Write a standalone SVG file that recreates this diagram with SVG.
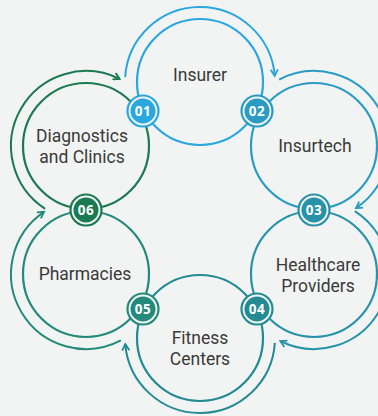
<svg xmlns="http://www.w3.org/2000/svg" width="378" height="416" viewBox="0 0 378 416">
<style>
.ring{fill:none;stroke-width:2.2}
.arc{fill:none;stroke-width:2}
.lbl{font-family:Roboto,"Noto Sans",sans-serif;font-size:17.5px;fill:#3a3a3a;text-anchor:middle}
.num{font-family:"Open Sans","Noto Sans",sans-serif;font-size:13.5px;font-weight:700;fill:#ffffff;text-anchor:middle;letter-spacing:0.5px}
.bo{fill:#f2f4f3;stroke-width:2.2}
</style>
<defs>
<marker id="m1" viewBox="0 0 10 10" refX="8" refY="5" markerWidth="9" markerHeight="9" markerUnits="userSpaceOnUse" orient="auto"><path d="M1,1 L8,5 L1,9" fill="none" stroke="#2aa7df" stroke-width="2"/></marker>
<marker id="m2" viewBox="0 0 10 10" refX="8" refY="5" markerWidth="9" markerHeight="9" markerUnits="userSpaceOnUse" orient="auto"><path d="M1,1 L8,5 L1,9" fill="none" stroke="#2a9cc4" stroke-width="2"/></marker>
<marker id="m3" viewBox="0 0 10 10" refX="8" refY="5" markerWidth="9" markerHeight="9" markerUnits="userSpaceOnUse" orient="auto"><path d="M1,1 L8,5 L1,9" fill="none" stroke="#2893a8" stroke-width="2"/></marker>
<marker id="m4" viewBox="0 0 10 10" refX="8" refY="5" markerWidth="9" markerHeight="9" markerUnits="userSpaceOnUse" orient="auto"><path d="M1,1 L8,5 L1,9" fill="none" stroke="#248b93" stroke-width="2"/></marker>
<marker id="m5" viewBox="0 0 10 10" refX="8" refY="5" markerWidth="9" markerHeight="9" markerUnits="userSpaceOnUse" orient="auto"><path d="M1,1 L8,5 L1,9" fill="none" stroke="#238a7c" stroke-width="2"/></marker>
<marker id="m6" viewBox="0 0 10 10" refX="8" refY="5" markerWidth="9" markerHeight="9" markerUnits="userSpaceOnUse" orient="auto"><path d="M1,1 L8,5 L1,9" fill="none" stroke="#1b7a52" stroke-width="2"/></marker>
</defs>
<rect width="378" height="416" fill="#f2f4f3"/>
<g id="connectors">
<path class="arc" stroke="#2aa7df" marker-end="url(#m1)" d="M125.16,77.16 A75,75 0 0 1 274.75,75.85"/>
<path class="arc" stroke="#2a9cc4" marker-end="url(#m2)" d="M279.14,79.6 A75,75 0 0 1 355.94,208.18"/>
<path class="arc" stroke="#2893a8" marker-end="url(#m3)" d="M354.85,211.1 A75,75 0 0 1 280.3,341"/>
<path class="arc" stroke="#248b93" marker-end="url(#m4)" d="M274.84,342.84 A75,75 0 0 1 125.25,344.15"/>
<path class="arc" stroke="#238a7c" marker-end="url(#m5)" d="M120.86,340.4 A75,75 0 0 1 44.06,211.82"/>
<path class="arc" stroke="#1b7a52" marker-end="url(#m6)" d="M45.15,208.9 A75,75 0 0 1 119.7,79"/>
</g>
<g id="insurer"><circle class="ring" cx="200" cy="82" r="63" stroke="#2aa7df"/><text class="lbl" x="200" y="81">Insurer</text></g>
<g id="insurtech"><circle class="ring" cx="314" cy="146" r="63" stroke="#2a9cc4"/><text class="lbl" x="315" y="152">Insurtech</text></g>
<g id="healthcare"><circle class="ring" cx="314" cy="274" r="63" stroke="#2893a8"/><text class="lbl" x="318" y="271">Healthcare</text><text class="lbl" x="318" y="292">Providers</text></g>
<g id="fitness"><circle class="ring" cx="200" cy="338" r="63" stroke="#248b93"/><text class="lbl" x="200" y="344">Fitness</text><text class="lbl" x="200" y="365">Centers</text></g>
<g id="pharmacies"><circle class="ring" cx="86" cy="274" r="63" stroke="#238a7c"/><text class="lbl" x="85" y="280">Pharmacies</text></g>
<g id="diagnostics"><circle class="ring" cx="86" cy="146" r="63" stroke="#1b7a52"/><text class="lbl" x="82" y="142">Diagnostics</text><text class="lbl" x="82" y="163">and Clinics</text></g>
<g id="b01"><circle class="bo" cx="143" cy="111" r="15.5" stroke="#2aa7df"/><circle cx="143" cy="111" r="12.5" fill="#2aa7df"/><text class="num" x="143" y="115.8">01</text></g>
<g id="b02"><circle class="bo" cx="257" cy="111" r="15.5" stroke="#2a9cc4"/><circle cx="257" cy="111" r="12.5" fill="#2a9cc4"/><text class="num" x="257" y="115.8">02</text></g>
<g id="b03"><circle class="bo" cx="314" cy="210" r="15.5" stroke="#2893a8"/><circle cx="314" cy="210" r="12.5" fill="#2893a8"/><text class="num" x="314" y="214.8">03</text></g>
<g id="b04"><circle class="bo" cx="257" cy="309" r="15.5" stroke="#248b93"/><circle cx="257" cy="309" r="12.5" fill="#248b93"/><text class="num" x="257" y="313.8">04</text></g>
<g id="b05"><circle class="bo" cx="143" cy="309" r="15.5" stroke="#238a7c"/><circle cx="143" cy="309" r="12.5" fill="#238a7c"/><text class="num" x="143" y="313.8">05</text></g>
<g id="b06"><circle class="bo" cx="86" cy="210" r="15.5" stroke="#1b7a52"/><circle cx="86" cy="210" r="12.5" fill="#1b7a52"/><text class="num" x="86" y="214.8">06</text></g>
</svg>
